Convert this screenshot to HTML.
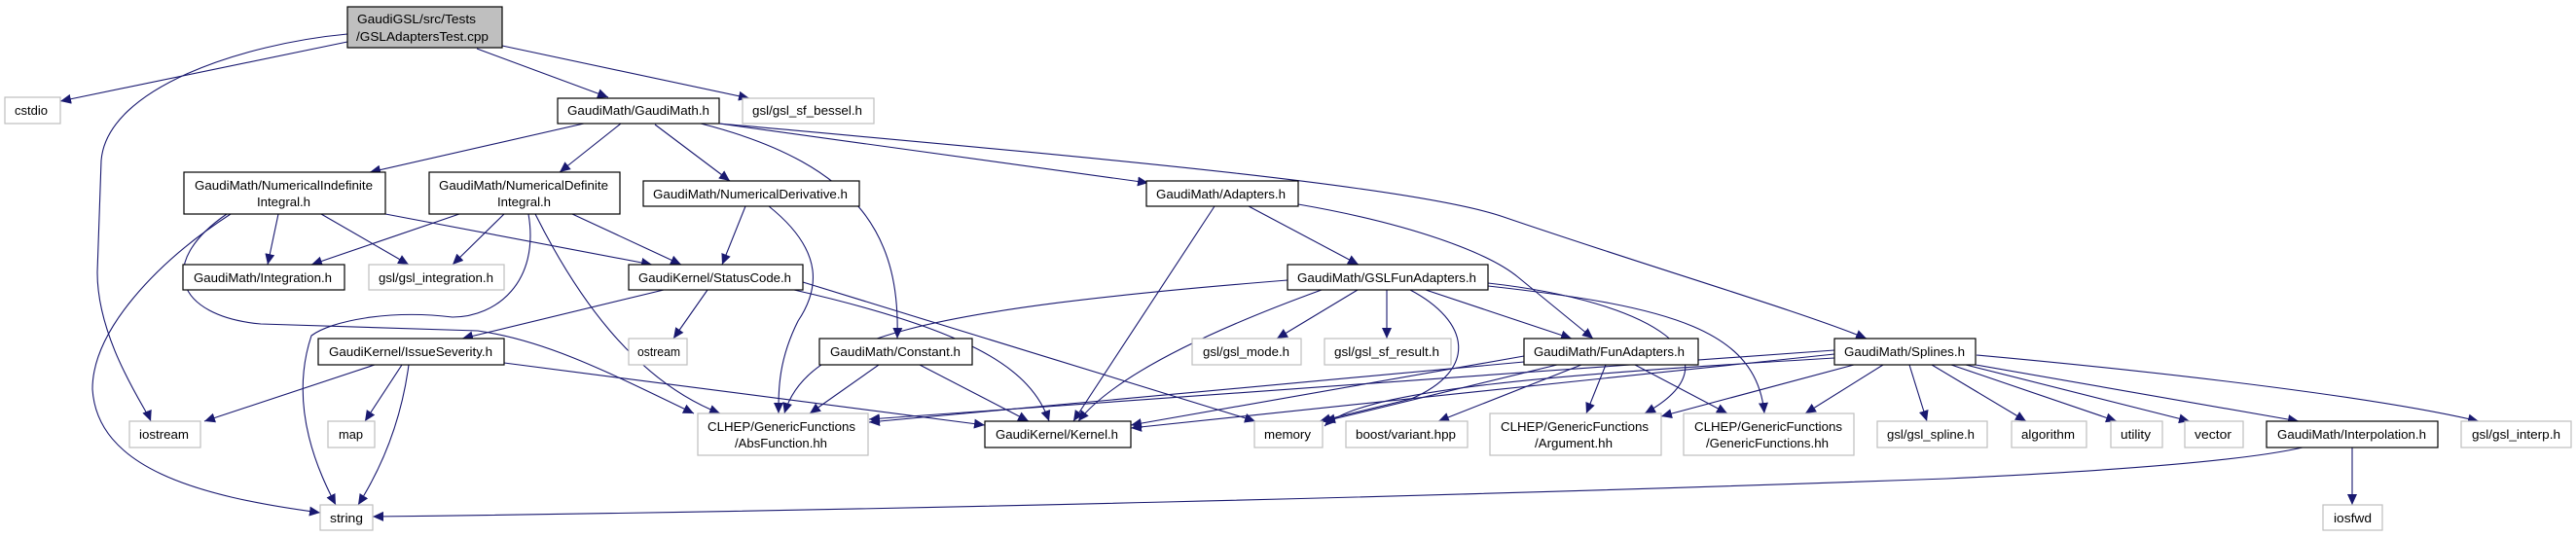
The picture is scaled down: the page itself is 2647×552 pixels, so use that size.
<!DOCTYPE html>
<html><head><meta charset="utf-8"><style>
html,body{margin:0;padding:0;background:#fff;}
svg{display:block;}
text{font-family:"Liberation Sans",sans-serif;font-size:13px;fill:#000;}
.e{fill:none;stroke:#191970;stroke-width:1.1;marker-end:url(#a);}
.n{fill:#fff;stroke:#000;stroke-width:1.2;}
.g{fill:#fff;stroke:#bfbfbf;stroke-width:1.2;}
</style></head><body>
<svg width="2647" height="552" viewBox="0 0 2647 552" xmlns="http://www.w3.org/2000/svg">
<defs><marker id="a" markerUnits="userSpaceOnUse" markerWidth="12" markerHeight="10" refX="11" refY="5" orient="auto"><path d="M0,0 L11,5 L0,10 Z" fill="#191970"/></marker></defs>

<!-- edges -->
<path class="e" d="M357,43 L62,104"/>
<path class="e" d="M357,35 C250,45 110,90 104,165 L100,280 C100,350 150,420 155,433"/>
<path class="e" d="M490,50 L625,100"/>
<path class="e" d="M516,47 L770,101"/>

<path class="e" d="M600,127 L380,177"/>
<path class="e" d="M638,127 L575,177"/>
<path class="e" d="M673,128 L750,186"/>
<path class="e" d="M720,127 C890,170 925,250 922,348"/>
<path class="e" d="M739,127 L1180,188"/>
<path class="e" d="M739,127 C1100,160 1450,190 1545,223 C1700,276 1850,320 1918,348"/>

<path class="e" d="M286,220 L275,272"/>
<path class="e" d="M330,220 L420,272"/>
<path class="e" d="M396,220 L670,272"/>
<path class="e" d="M237,220 C160,270 95,340 95,400 C100,480 200,510 329,527"/>
<path class="e" d="M233,220 C160,270 180,325 268,333 L491,340 C560,350 620,380 713,425"/>

<path class="e" d="M472,220 L320,272"/>
<path class="e" d="M518,220 L465,272"/>
<path class="e" d="M588,220 L700,272"/>
<path class="e" d="M543,220 C555,290 510,326 465,326 C400,318 340,330 320,345 C295,420 330,490 345,519"/>
<path class="e" d="M550,220 C590,300 650,390 740,425"/>

<path class="e" d="M766,212 L742,272"/>
<path class="e" d="M790,212 C850,260 840,300 820,330 C800,370 800,400 800,425"/>

<path class="e" d="M682,298 L475,348"/>
<path class="e" d="M727,298 L692,348"/>
<path class="e" d="M816,298 C1000,340 1060,380 1078,433"/>
<path class="e" d="M825,290 L1290,433"/>

<path class="e" d="M385,375 L210,433"/>
<path class="e" d="M413,375 L375,433"/>
<path class="e" d="M420,375 C410,450 380,500 368,519"/>
<path class="e" d="M518,373 L1012,437"/>

<path class="e" d="M903,375 L832,425"/>
<path class="e" d="M945,375 L1057,433"/>

<path class="e" d="M1248,212 L1103,433"/>
<path class="e" d="M1283,212 L1396,272"/>
<path class="e" d="M1334,210 C1450,230 1530,260 1560,285 L1637,348"/>

<path class="e" d="M1323,288 C950,318 829,347 806,425"/>
<path class="e" d="M1358,298 C1270,330 1150,380 1108,433"/>
<path class="e" d="M1395,298 L1312,348"/>
<path class="e" d="M1425,298 L1425,348"/>
<path class="e" d="M1465,298 L1615,348"/>
<path class="e" d="M1449,298 C1510,330 1520,380 1450,410 L1356,433"/>
<path class="e" d="M1529,291 C1700,310 1790,370 1690,425"/>
<path class="e" d="M1529,294 C1720,315 1805,340 1813,425"/>

<path class="e" d="M1566,372 L893,434"/>
<path class="e" d="M1566,366 L1162,437"/>
<path class="e" d="M1600,375 L1361,433"/>
<path class="e" d="M1625,375 L1478,433"/>
<path class="e" d="M1650,375 L1630,425"/>
<path class="e" d="M1680,375 L1775,425"/>

<path class="e" d="M1885,360 L893,431"/>
<path class="e" d="M1885,364 L1162,440"/>
<path class="e" d="M1885,368 C1600,385 1400,400 1361,438"/>
<path class="e" d="M1905,375 L1707,428"/>
<path class="e" d="M1935,375 L1855,425"/>
<path class="e" d="M1962,375 L1980,433"/>
<path class="e" d="M1985,375 L2082,433"/>
<path class="e" d="M2005,375 L2175,433"/>
<path class="e" d="M2020,375 L2250,433"/>
<path class="e" d="M2030,375 L2362,433"/>
<path class="e" d="M2031,365 C2250,385 2450,410 2547,433"/>

<path class="e" d="M2366,460 C2300,475 2150,485 2000,492 C1500,510 900,525 383,531"/>
<path class="e" d="M2417,460 L2417,519"/>

<!-- nodes -->
<rect x="357" y="7" width="159" height="42" fill="#bfbfbf" stroke="#000" stroke-width="1.2"/>
<text x="367" y="24" textLength="122" lengthAdjust="spacingAndGlyphs">GaudiGSL/src/Tests</text>
<text x="366" y="42" textLength="136" lengthAdjust="spacingAndGlyphs">/GSLAdaptersTest.cpp</text>

<rect class="g" x="5" y="100" width="57" height="27"/><text x="15" y="118">cstdio</text>
<rect class="n" x="573" y="101" width="166" height="26"/><text x="583" y="118" textLength="146" lengthAdjust="spacingAndGlyphs">GaudiMath/GaudiMath.h</text>
<rect class="g" x="763" y="101" width="135" height="26"/><text x="773" y="118" textLength="113" lengthAdjust="spacingAndGlyphs">gsl/gsl_sf_bessel.h</text>

<rect class="n" x="189" y="177" width="207" height="43"/>
<text x="200" y="195" textLength="183" lengthAdjust="spacingAndGlyphs">GaudiMath/NumericalIndefinite</text>
<text x="264" y="212" textLength="55" lengthAdjust="spacingAndGlyphs">Integral.h</text>
<rect class="n" x="441" y="177" width="196" height="43"/>
<text x="451" y="195" textLength="174" lengthAdjust="spacingAndGlyphs">GaudiMath/NumericalDefinite</text>
<text x="511" y="212" textLength="55" lengthAdjust="spacingAndGlyphs">Integral.h</text>
<rect class="n" x="661" y="186" width="222" height="26"/><text x="671" y="204" textLength="200" lengthAdjust="spacingAndGlyphs">GaudiMath/NumericalDerivative.h</text>
<rect class="n" x="1178" y="186" width="156" height="26"/><text x="1188" y="204" textLength="133" lengthAdjust="spacingAndGlyphs">GaudiMath/Adapters.h</text>

<rect class="n" x="188" y="272" width="166" height="26"/><text x="199" y="290" textLength="142" lengthAdjust="spacingAndGlyphs">GaudiMath/Integration.h</text>
<rect class="g" x="379" y="272" width="139" height="26"/><text x="389" y="290" textLength="118" lengthAdjust="spacingAndGlyphs">gsl/gsl_integration.h</text>
<rect class="n" x="646" y="272" width="179" height="26"/><text x="656" y="290" textLength="157" lengthAdjust="spacingAndGlyphs">GaudiKernel/StatusCode.h</text>
<rect class="n" x="1323" y="272" width="206" height="26"/><text x="1333" y="290" textLength="184" lengthAdjust="spacingAndGlyphs">GaudiMath/GSLFunAdapters.h</text>

<rect class="n" x="327" y="348" width="191" height="27"/><text x="338" y="366" textLength="168" lengthAdjust="spacingAndGlyphs">GaudiKernel/IssueSeverity.h</text>
<rect class="g" x="646" y="348" width="60" height="27"/><text x="655" y="366" textLength="44" lengthAdjust="spacingAndGlyphs">ostream</text>
<rect class="n" x="842" y="348" width="157" height="27"/><text x="853" y="366" textLength="134" lengthAdjust="spacingAndGlyphs">GaudiMath/Constant.h</text>
<rect class="g" x="1225" y="348" width="112" height="27"/><text x="1236" y="366" textLength="89" lengthAdjust="spacingAndGlyphs">gsl/gsl_mode.h</text>
<rect class="g" x="1361" y="348" width="130" height="27"/><text x="1371" y="366" textLength="108" lengthAdjust="spacingAndGlyphs">gsl/gsl_sf_result.h</text>
<rect class="n" x="1566" y="348" width="179" height="27"/><text x="1576" y="366" textLength="155" lengthAdjust="spacingAndGlyphs">GaudiMath/FunAdapters.h</text>
<rect class="n" x="1885" y="348" width="145" height="27"/><text x="1895" y="366" textLength="124" lengthAdjust="spacingAndGlyphs">GaudiMath/Splines.h</text>

<rect class="g" x="133" y="433" width="73" height="27"/><text x="143" y="451" textLength="51" lengthAdjust="spacingAndGlyphs">iostream</text>
<rect class="g" x="337" y="433" width="48" height="27"/><text x="348" y="451" textLength="25" lengthAdjust="spacingAndGlyphs">map</text>
<rect class="g" x="717" y="425" width="175" height="43"/>
<text x="727" y="443" textLength="152" lengthAdjust="spacingAndGlyphs">CLHEP/GenericFunctions</text>
<text x="755" y="460" textLength="95" lengthAdjust="spacingAndGlyphs">/AbsFunction.hh</text>
<rect class="n" x="1012" y="433" width="150" height="27"/><text x="1023" y="451" textLength="126" lengthAdjust="spacingAndGlyphs">GaudiKernel/Kernel.h</text>
<rect class="g" x="1289" y="433" width="70" height="27"/><text x="1299" y="451" textLength="48" lengthAdjust="spacingAndGlyphs">memory</text>
<rect class="g" x="1383" y="433" width="125" height="27"/><text x="1393" y="451" textLength="103" lengthAdjust="spacingAndGlyphs">boost/variant.hpp</text>
<rect class="g" x="1531" y="425" width="176" height="43"/>
<text x="1542" y="443" textLength="152" lengthAdjust="spacingAndGlyphs">CLHEP/GenericFunctions</text>
<text x="1577" y="460" textLength="80" lengthAdjust="spacingAndGlyphs">/Argument.hh</text>
<rect class="g" x="1730" y="425" width="175" height="43"/>
<text x="1741" y="443" textLength="152" lengthAdjust="spacingAndGlyphs">CLHEP/GenericFunctions</text>
<text x="1753" y="460" textLength="126" lengthAdjust="spacingAndGlyphs">/GenericFunctions.hh</text>
<rect class="g" x="1929" y="433" width="113" height="27"/><text x="1939" y="451" textLength="90" lengthAdjust="spacingAndGlyphs">gsl/gsl_spline.h</text>
<rect class="g" x="2067" y="433" width="77" height="27"/><text x="2077" y="451" textLength="55" lengthAdjust="spacingAndGlyphs">algorithm</text>
<rect class="g" x="2169" y="433" width="53" height="27"/><text x="2179" y="451" textLength="31" lengthAdjust="spacingAndGlyphs">utility</text>
<rect class="g" x="2245" y="433" width="60" height="27"/><text x="2255" y="451" textLength="38" lengthAdjust="spacingAndGlyphs">vector</text>
<rect class="n" x="2329" y="433" width="176" height="27"/><text x="2340" y="451" textLength="153" lengthAdjust="spacingAndGlyphs">GaudiMath/Interpolation.h</text>
<rect class="g" x="2529" y="433" width="113" height="27"/><text x="2540" y="451" textLength="91" lengthAdjust="spacingAndGlyphs">gsl/gsl_interp.h</text>

<rect class="g" x="329" y="519" width="54" height="26"/><text x="339" y="537" textLength="34" lengthAdjust="spacingAndGlyphs">string</text>
<rect class="g" x="2387" y="519" width="61" height="26"/><text x="2398" y="537" textLength="39" lengthAdjust="spacingAndGlyphs">iosfwd</text>
</svg>
</body></html>
